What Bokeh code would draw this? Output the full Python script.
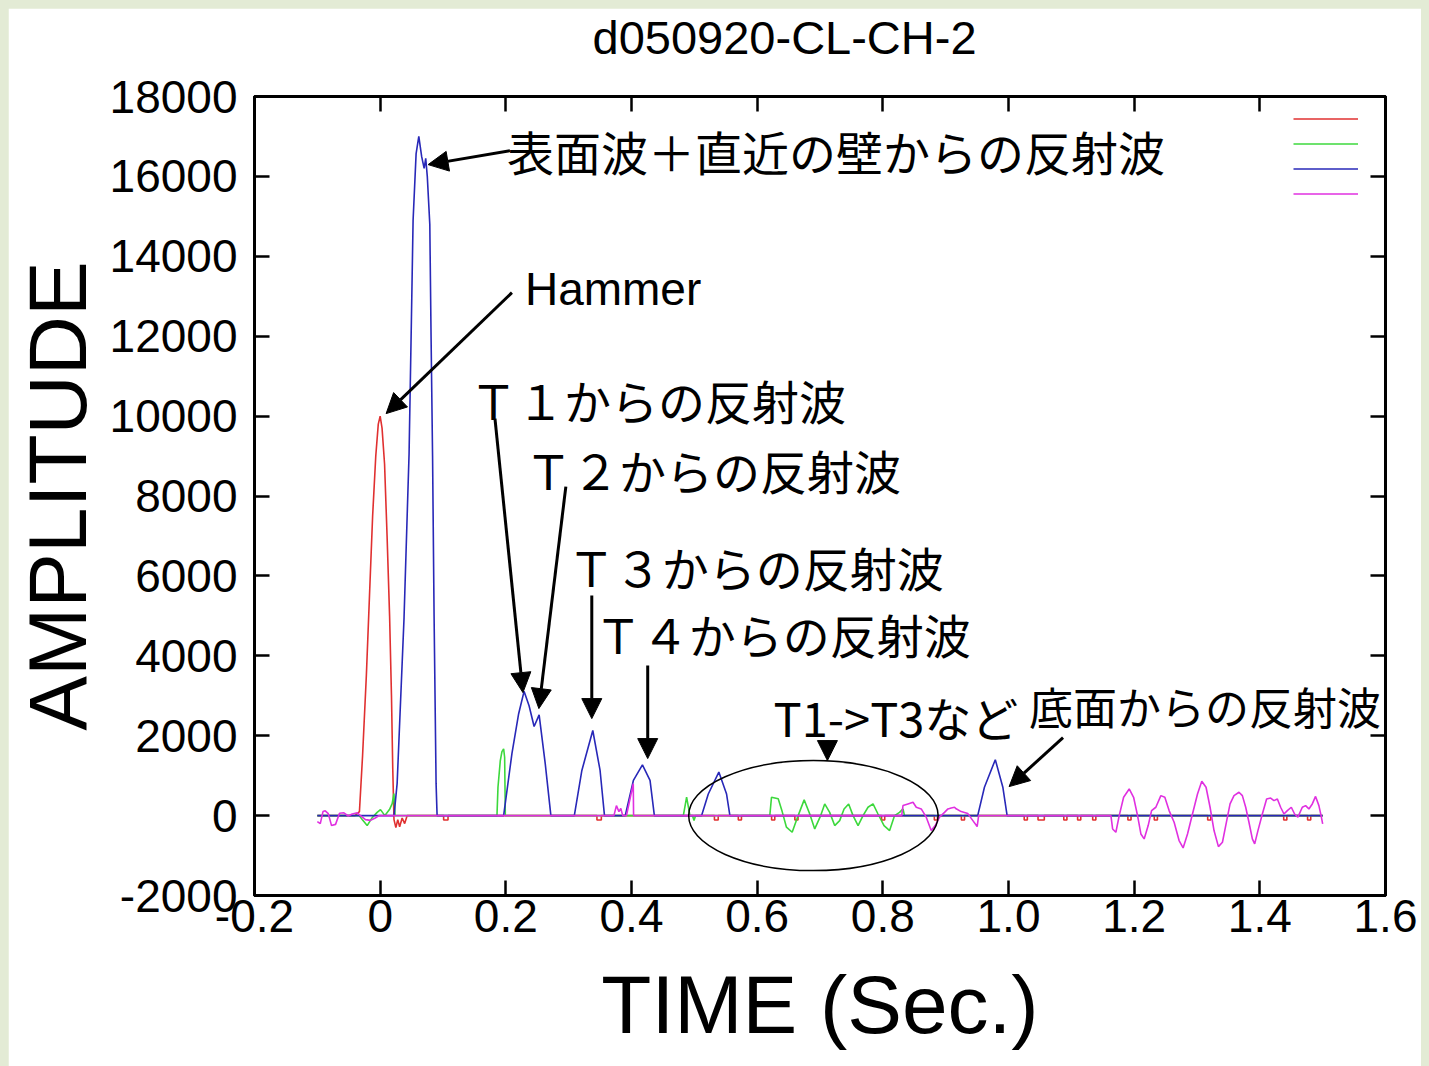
from bokeh.plotting import figure
from bokeh.models import (ColumnDataSource, LinearAxis, Range1d, FixedTicker, Label, LabelSet,
                          Arrow, NormalHead, Legend, LegendItem, CustomJSTickFormatter)
from bokeh.core.properties import value
from bokeh.embed import file_html
from bokeh.resources import INLINE

# ---------------- data (time in seconds, amplitude) ----------------
red_t = [-0.1, -0.04, -0.033, -0.028, -0.022, -0.017, -0.012, -0.007, -0.003, 0.0, 0.003, 0.007,
         0.011, 0.015, 0.018, 0.020, 0.022, 0.025, 0.028, 0.031, 0.035, 0.039, 0.043,
         0.101, 0.101, 0.108, 0.108, 0.345, 0.345, 0.352, 0.352, 0.532, 0.532, 0.538, 0.538,
         0.570, 0.570, 0.575, 0.575, 0.623, 0.623, 0.628, 0.628, 0.660, 0.660, 0.665, 0.665,
         0.798, 0.798, 0.803, 0.803, 0.882, 0.882, 0.887, 0.887, 0.925, 0.925, 0.930, 0.930,
         1.025, 1.025, 1.030, 1.030, 1.047, 1.047, 1.057, 1.057, 1.088, 1.088, 1.093, 1.093,
         1.110, 1.110, 1.115, 1.115, 1.134, 1.134, 1.139, 1.139, 1.190, 1.190, 1.195, 1.195,
         1.232, 1.232, 1.237, 1.237, 1.317, 1.317, 1.322, 1.322, 1.438, 1.438, 1.443, 1.443,
         1.476, 1.476, 1.481, 1.481, 1.5]
red_v = [0, 0, 100, 1500, 3500, 5500, 7500, 9000, 9800, 10000, 9700, 8800,
         7000, 5000, 3000, 1200, -100, -300, -100, -280, -60, -200, 0,
         0, -110, -110, 0, 0, -110, -110, 0, 0, -110, -110, 0,
         0, -110, -110, 0, 0, -110, -110, 0, 0, -110, -110, 0,
         0, -110, -110, 0, 0, -110, -110, 0, 0, -110, -110, 0,
         0, -110, -110, 0, 0, -110, -110, 0, 0, -110, -110, 0,
         0, -110, -110, 0, 0, -110, -110, 0, 0, -110, -110, 0,
         0, -110, -110, 0, 0, -110, -110, 0, 0, -110, -110, 0,
         0, -110, -110, 0, 0]

green_t = [-0.1, -0.0334, -0.0286, -0.0207, -0.0127, -0.0048, 0.0005, 0.0075, 0.0148, 0.0191,
           0.0218, 0.0238, 0.1859, 0.1875, 0.1912, 0.1938, 0.1965, 0.1981, 0.1992,
           0.4825, 0.4877, 0.4930, 0.4970, 0.4995, 0.5020,
           0.6201, 0.6228, 0.6335, 0.6398, 0.6466, 0.6557, 0.6652, 0.6748, 0.6837, 0.6916,
           0.7011, 0.7075, 0.7154, 0.7234, 0.7313, 0.7383, 0.7456, 0.7526, 0.7606, 0.7685,
           0.7764, 0.7844, 0.7923, 0.8019, 0.8108, 0.8187, 0.8266, 0.8321, 0.8345, 1.5]
green_v = [0, 0, -100, -250, -50, 80, 150, 0, 150, 300,
           550, 0, 0, 710, 1377, 1600, 1670, 1460, 0,
           0, 460, 0, 0, -125, 0,
           0, 460, 420, 100, -290, -417, 0, 393, 40, -334,
           0, 292, 80, -250, -125, 167, 292, 0, -250, 0,
           209, 292, 40, -250, -375, 0, 80, 167, 0, 0]

blue_t = [-0.1, 0.022, 0.027, 0.038, 0.046, 0.0497, 0.0524, 0.0572, 0.0615, 0.066, 0.070, 0.0725,
          0.075, 0.079, 0.081, 0.0834, 0.0858, 0.089, 0.0906, 0.1965, 0.2097, 0.2204, 0.229,
          0.237, 0.245, 0.253, 0.2627, 0.2717, 0.309, 0.321, 0.3384, 0.350, 0.357, 0.390,
          0.403, 0.4174, 0.4295, 0.4364, 0.5116, 0.5222, 0.539, 0.5513, 0.5566, 0.951,
          0.9617, 0.979, 0.991, 0.9978, 1.5]
blue_v = [0, 0, 800, 4950, 9060, 12390, 14900, 16570, 17000, 16500, 16200, 16450,
          16000, 14800, 12000, 9000, 5000, 800, 0, 0, 1550, 2550, 3110,
          2750, 2230, 2520, 1300, 0, 0, 1130, 2130, 1130, 0, 0,
          880, 1270, 880, 0, 0, 540, 1090, 540, 0, 0,
          710, 1400, 710, 0, 0]

magenta_t = [-0.1, -0.0953, -0.091, -0.0874, -0.0826, -0.0774, -0.071, -0.0647, -0.0577, -0.0508,
             -0.0445, -0.0365, -0.0313, -0.0234, -0.0154, -0.0079, -0.0016,
             0.372, 0.376, 0.380, 0.383, 0.386, 0.392, 0.4028, 0.4033,
             0.8300, 0.8321, 0.8400, 0.8480, 0.8532, 0.8611, 0.8691, 0.8770, 0.8834, 0.8902,
             0.8982, 0.9036, 0.9088, 0.9141, 0.9167, 0.9247, 0.9353, 0.9433, 0.9501, 0.9525,
             1.1630, 1.1657, 1.1709, 1.1762, 1.1832, 1.1921, 1.1991, 1.2054, 1.2107, 1.2159,
             1.2223, 1.2277, 1.2345, 1.2425, 1.2488, 1.2556, 1.2636, 1.2715, 1.2779, 1.2849,
             1.2928, 1.3008, 1.3076, 1.3144, 1.3208, 1.3271, 1.3341, 1.3405, 1.3473, 1.3526,
             1.3589, 1.3668, 1.3722, 1.3775, 1.3827, 1.3881, 1.3918, 1.3970, 1.4040, 1.4108,
             1.4172, 1.4225, 1.4279, 1.4331, 1.4384, 1.4438, 1.4501, 1.4553, 1.4606, 1.4676,
             1.4728, 1.4781, 1.4835, 1.4887, 1.4940, 1.4975, 1.5]
magenta_v = [-150, -200, 100, 120, 50, -250, -220, 60, 70, -10,
             40, 70, 0, -100, -120, -60, 0,
             0, 250, 100, 180, 0, 0, 800, 0,
             0, 250, 292, 333, 209, 167, -40, -375, -250, -40,
             80, 167, 190, 209, 170, 100, 50, -125, -275, 0,
             0, -334, -417, 0, 459, 667, 459, 0, -459, -584,
             -250, 125, 209, 500, 459, 125, -167, -625, -809, -459,
             40, 542, 859, 709, 209, -375, -776, -667, -125, 292,
             500, 584, 500, 209, -167, -584, -709, -375, 40, 417,
             440, 375, 417, 209, 40, 125, 209, 40, -40, 209,
             250, 167, 292, 480, 250, 0, -209]

x_ticks = [-0.2, 0.0, 0.2, 0.4, 0.6, 0.8, 1.0, 1.2, 1.4, 1.6]
x_tick_labels = ["-0.2", "0", "0.2", "0.4", "0.6", "0.8", "1.0", "1.2", "1.4", "1.6"]
y_ticks = [-2000, 0, 2000, 4000, 6000, 8000, 10000, 12000, 14000, 16000, 18000]
y_tick_labels = ["-2000", "0", "2000", "4000", "6000", "8000", "10000", "12000", "14000", "16000", "18000"]

title_text = "d050920-CL-CH-2"
x_title = "TIME (Sec.)"
y_title = "AMPLITUDE"

# annotations (data coordinates)
note_text = ["表面波＋直近の壁からの反射波", "Ｔ１からの反射波", "Ｔ２からの反射波", "Ｔ３からの反射波",
             "Ｔ４からの反射波", "T1->T3など"]
note_x = [0.2018, 0.143, 0.2304, 0.2987, 0.3416, 0.626]
note_y = [16645, 10412, 8660, 6232, 4555, 2478]
bottom_text = "底面からの反射波"
bottom_x, bottom_y = 1.0327, 2753
hammer_text = "Hammer"
hammer_x, hammer_y = 0.2304, 13191

arrow_x0 = [0.2065, 0.2097, 0.1827, 0.2955, 0.3368, 0.4258, 0.7118, 1.0868]
arrow_y0 = [16645, 13091, 9937, 8235, 5507, 3755, 1877, 1952]
arrow_x1 = [0.0763, 0.0095, 0.2272, 0.2526, 0.3368, 0.4258, 0.7118, 1.001]
arrow_y1 = [16295, 10062, 3079, 2678, 2428, 1427, 1377, 726]

ellipse_x, ellipse_y, ellipse_w, ellipse_h = [0.6895], [0], [0.397], [2753]

# ---------------- figure ----------------
LATIN = "Liberation Sans"
CJK = "Noto Sans CJK JP"

p = figure(width=1413, height=1058, x_range=Range1d(-0.2, 1.6), y_range=Range1d(-2000, 18000),
           output_backend="svg", toolbar_location=None,
           min_border_left=244, min_border_right=36, min_border_top=88, min_border_bottom=171)
p.grid.visible = False
p.outline_line_color = "black"
p.outline_line_width = 3
p.background_fill_color = "white"
p.border_fill_color = "white"

p.title.text = title_text
p.title.text_font = LATIN
p.title.text_font_size = "47px"
p.title.text_font_style = "normal"
p.title.text_color = "black"
p.title.align = "left"
p.title.offset = 338
p.title.standoff = 0
p.title.vertical_align = "bottom"


def fmt(tick_vals, tick_labels):
    return CustomJSTickFormatter(args=dict(tv=tick_vals, tl=tick_labels), code="""
        for (let i = 0; i < tv.length; i++) {
            if (Math.abs(tv[i] - tick) < 1e-6) { return tl[i]; }
        }
        return "";
    """)


def style_axis(ax, tick_vals):
    ax.ticker = FixedTicker(ticks=tick_vals)
    ax.axis_line_width = 3
    ax.axis_line_color = "black"
    ax.major_tick_in = 15
    ax.major_tick_out = 0
    ax.major_tick_line_width = 2.5
    ax.minor_tick_line_color = None
    ax.major_label_text_font = LATIN
    ax.major_label_text_font_size = "46px"
    ax.major_label_text_color = "black"
    ax.axis_label_text_font = LATIN
    ax.axis_label_text_font_style = "normal"
    ax.axis_label_text_color = "black"


xa = p.xaxis[0]
style_axis(xa, x_ticks)
xa.formatter = fmt(x_ticks, x_tick_labels)
xa.major_label_standoff = 4
xa.axis_label = x_title
xa.axis_label_text_font_size = "82px"
xa.axis_label_standoff = 24

ya = p.yaxis[0]
style_axis(ya, y_ticks)
ya.formatter = fmt(y_ticks, y_tick_labels)
ya.major_label_standoff = 17
ya.axis_label = y_title
ya.axis_label_text_font_size = "82px"
ya.axis_label_standoff = 4

top_ax = LinearAxis()
style_axis(top_ax, x_ticks)
top_ax.formatter = CustomJSTickFormatter(code="return '';")
top_ax.major_label_text_font_size = "1px"
top_ax.major_label_standoff = 0
top_ax.axis_label = " "           # spacer that lifts the title off the frame
top_ax.axis_label_text_font_size = "20px"
top_ax.axis_label_standoff = 8
p.add_layout(top_ax, "above")
right_ax = LinearAxis()
style_axis(right_ax, y_ticks)
right_ax.formatter = CustomJSTickFormatter(code="return '';")
right_ax.major_label_text_font_size = "1px"
right_ax.major_label_standoff = 0
p.add_layout(right_ax, "right")

# ---------------- series ----------------
r_red = p.line(red_t, red_v, line_color="#e03030", line_width=1.6)
r_green = p.line(green_t, green_v, line_color="#3cd83c", line_width=1.6)
r_blue = p.line(blue_t, blue_v, line_color="#2828b8", line_width=1.6)
r_mag = p.line(magenta_t, magenta_v, line_color="#e030e0", line_width=1.6)

legend = Legend(items=[LegendItem(label=" ", renderers=[r]) for r in (r_red, r_green, r_blue, r_mag)],
                location="top_right", glyph_width=65, glyph_height=25, spacing=0, padding=5, margin=5,
                label_standoff=0, label_width=17, label_text_font_size="8px",
                border_line_alpha=0, background_fill_alpha=0)
p.add_layout(legend)

# ellipse
p.ellipse(x=ellipse_x, y=ellipse_y, width=ellipse_w, height=ellipse_h,
          fill_color=None, line_color="black", line_width=1.5)

# arrows
asrc = ColumnDataSource(dict(x0=arrow_x0, y0=arrow_y0, x1=arrow_x1, y1=arrow_y1))
p.add_layout(Arrow(x_start="x0", y_start="y0", x_end="x1", y_end="y1", source=asrc,
                   line_color="black", line_width=3,
                   end=NormalHead(size=20, fill_color="black", line_color="black", line_width=1)))

# notes
nsrc = ColumnDataSource(dict(x=note_x, y=note_y, text=note_text))
p.add_layout(LabelSet(x="x", y="y", text="text", source=nsrc, text_font=value(CJK),
                      text_font_size=value("47px"), text_baseline="middle", text_align="left",
                      text_color="black"))
p.add_layout(Label(x=bottom_x, y=bottom_y, text=bottom_text, text_font=CJK, text_font_size="44px",
                   text_baseline="middle", text_align="left", text_color="black"))
p.add_layout(Label(x=hammer_x, y=hammer_y, text=hammer_text, text_font=LATIN, text_font_size="46px",
                   text_baseline="middle", text_align="left", text_color="black"))

html = file_html(p, INLINE)
page_style = ("<style>html { background: #e3ebd5 !important; margin: 0 !important; padding: 0 !important; "
              "overflow: hidden !important; } "
              "body { background: #e3ebd5 !important; margin: 0 !important; "
              "padding: 8px 8px 0 8px !important; box-sizing: border-box !important; "
              "overflow: hidden !important; }</style>")
html = html.replace("</head>", page_style + "</head>", 1)
open("out.html", "w").write(html)
